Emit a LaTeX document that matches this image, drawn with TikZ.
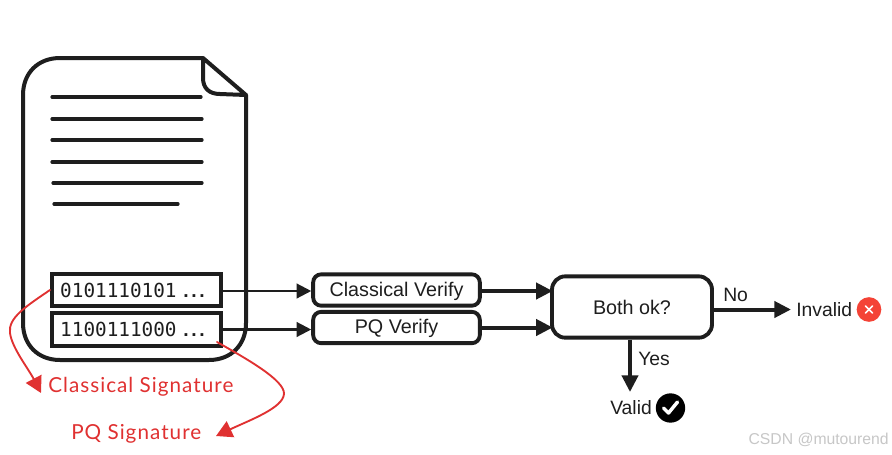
\documentclass[tikz,border=0pt]{standalone}
\usepackage{fontspec}
\setmainfont{Liberation Sans}
\newfontfamily\monof{DejaVu Sans Mono}
\newfontfamily\handf[LetterSpace=5]{Lato}
\usetikzlibrary{arrows.meta,calc}
\definecolor{ink}{HTML}{1E1E1E}
\definecolor{redink}{HTML}{E03131}
\definecolor{badred}{HTML}{F44336}
\newcommand{\tightdots}{\hspace{5pt}{\rmfamily\bfseries.\hspace{2pt}.\hspace{2pt}.}\kern6pt\relax}
\tikzset{
  heavy/.style={draw=ink,line width=3pt,line join=round,line cap=round},
  textline/.style={draw=ink,line width=2.4pt,line cap=round},
  sigbox/.style={draw=ink,line width=3pt,fill=white,minimum width=127pt,minimum height=24.5pt,inner sep=0pt,font=\monof\fontsize{14.5}{16}\selectfont,text=ink},
  verifybox/.style={draw=ink,line width=2.9pt,rounded corners=6pt,fill=white,minimum width=125pt,minimum height=23.5pt,inner sep=0pt,font=\fontsize{14.8}{17}\selectfont,text=ink,text height=10.6pt,text depth=1pt},
  label/.style={inner sep=0pt,font=\fontsize{14.5}{17}\selectfont,text=ink},
  hand/.style={inner sep=0pt,font=\handf\fontsize{15.5}{17}\selectfont,text=redink},
  thinarrow/.style={draw=ink,line width=1.7pt,-{Triangle[length=11pt,width=11pt]}},
  thickarrow/.style={draw=ink,line width=3pt,-{Triangle[length=12.5pt,width=12pt]}},
  redarrow/.style={draw=redink,line width=1.4pt,line cap=round,-{Triangle[length=12pt,width=13pt]}},
}
\begin{document}
\begin{tikzpicture}[x=0.75pt,y=-0.75pt]
\useasboundingbox (0,0) rectangle (892,454);
\fill[white] (0,0) rectangle (892,454);
% document
\draw[heavy] (203,58) -- (60,58) .. controls (38,58) and (23,73) .. (23,95) -- (23,323)
  .. controls (23,345) and (38,360) .. (60,360) -- (209,360)
  .. controls (231,360) and (246,345) .. (246,323) -- (246,95) -- (203,58)
  -- (203,78) .. controls (203,88) and (209,94) .. (220,94) -- (246,95);
\draw[textline] (52,97) -- (201,97);
\draw[textline] (52,119) -- (202,119);
\draw[textline] (52,140) -- (202,140);
\draw[textline] (52,162) -- (202,162);
\draw[textline] (53,183) -- (202,183);
\draw[textline] (54,204) -- (178,204);
% signature boxes
\node[sigbox] (classic) at (136.5,290) {0101110101\tightdots};
\node[sigbox] (pq) at (136.5,329.5) {1100111000\tightdots};
% verify boxes
\node[verifybox] (cverify) at (396.5,290) {Classical Verify};
\node[verifybox] (pverify) at (396.5,327.5) {PQ Verify};
\node[verifybox,minimum width=120pt,minimum height=46pt,rounded corners=10pt,text depth=0pt] (both) at (632,307) {Both ok?};
% results
\node[label,anchor=west] (invalid) at (796,310) {Invalid};
\node[circle,fill=badred,minimum size=18.5pt,inner sep=0pt] (bad) at (869,309.5) {};
\draw[white,line width=1.3pt,line cap=round] ($(bad)+(-3.6,-3.6)$) -- ($(bad)+(3.6,3.6)$);
\draw[white,line width=1.3pt,line cap=round] ($(bad)+(-3.6,3.6)$) -- ($(bad)+(3.6,-3.6)$);
\node[label,anchor=west] (valid) at (610,408) {Valid};
\node[circle,fill=black,minimum size=22pt,inner sep=0pt] (good) at (670.5,408) {};
\draw[white,line width=2.6pt,line cap=round,line join=round] ($(good)+(-7,0)$) -- ($(good)+(-2,5)$) -- ($(good)+(7,-6)$);
% connectors
\draw[thinarrow] ($(classic.east)+(0,1)$) -- ($(cverify.west)+(0,1)$);
\draw[thinarrow] (pq.east) -- (pq.east -| pverify.west);
\draw[thickarrow,shorten >=-2pt] ($(cverify.east)+(0,1)$) -- ($(cverify.east -| both.west)+(0,1)$);
\draw[thickarrow,shorten >=-2pt] (pverify.east) -- (pverify.east -| both.west);
\coordinate (noend) at (791,309.5);
\coordinate (yesend) at (630,392);
\draw[thickarrow] (both.east |- noend) -- (noend);
\draw[thickarrow] (yesend |- both.south) -- (yesend);
\node[label,anchor=west] (no) at (723,295) {No};
\node[label,anchor=west] (yes) at (638,359) {Yes};
% red annotations
\coordinate (cstart) at (50,290);
\coordinate (pstart) at (217,342);
\coordinate (cend) at (41,393);
\coordinate (pend) at (216,436);
\draw[redarrow] (cstart) .. controls (25,307) and (8,318) .. (10,333) .. controls (12,348) and (28,368) .. (cend);
\draw[redarrow] (pstart) .. controls (245,358) and (285,380) .. (284,394) .. controls (283,408) and (250,420) .. (pend);
\node[hand,anchor=west] (clabel) at (48,387) {Classical Signature};
\node[hand,anchor=west] (plabel) at (71,434) {PQ Signature};
% watermark
\node[inner sep=0pt,anchor=east,text=black!22,font=\fontsize{11.8}{14}\selectfont] (mark) at (889,440) {CSDN @mutourend};
\end{tikzpicture}
\end{document}
